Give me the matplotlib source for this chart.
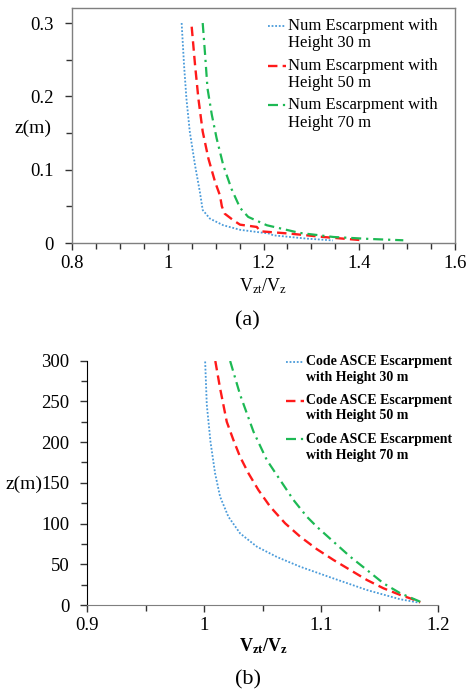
import matplotlib
matplotlib.use("Agg")
import matplotlib.pyplot as plt
from matplotlib.ticker import MultipleLocator

plt.rcParams['font.family'] = ['Liberation Serif', 'DejaVu Serif']
plt.rcParams['mathtext.fontset'] = 'custom'
plt.rcParams['mathtext.rm'] = 'Liberation Serif'
plt.rcParams['mathtext.bf'] = 'Liberation Serif:bold'

# (a) numerical speed-up profiles, z in m (model scale)
num_30_ratio = [1.029, 1.034, 1.039, 1.046, 1.057, 1.067, 1.073, 1.088, 1.102, 1.116,
                1.151, 1.158, 1.213, 1.220, 1.290, 1.345]
num_30_z = [0.300, 0.243, 0.197, 0.152, 0.106, 0.070, 0.045, 0.0333, 0.0287, 0.0242,
            0.0180, 0.0174, 0.0128, 0.0105, 0.0060, 0.0035]

num_50_ratio = [1.050, 1.057, 1.064, 1.073, 1.085, 1.099, 1.109, 1.113, 1.119, 1.137,
                1.151, 1.186, 1.193, 1.255, 1.325, 1.408]
num_50_z = [0.295, 0.243, 0.197, 0.152, 0.115, 0.083, 0.065, 0.050, 0.040, 0.031,
            0.0250, 0.0219, 0.0160, 0.0128, 0.0082, 0.0037]

num_70_ratio = [1.073, 1.078, 1.083, 1.092, 1.102, 1.116, 1.133, 1.151, 1.168, 1.207,
                1.276, 1.346, 1.422, 1.492]
num_70_z = [0.300, 0.257, 0.211, 0.175, 0.143, 0.106, 0.074, 0.048, 0.0356, 0.0242,
            0.0137, 0.0082, 0.0055, 0.0037]

# (b) ASCE code speed-up profiles, z in m
asce_30_ratio = [1.0009, 1.0023, 1.0055, 1.0094, 1.0137, 1.0208, 1.0308, 1.0452, 1.0623,
                 1.0823, 1.108, 1.1394, 1.168, 1.1836]
asce_30_z = [299, 246, 200, 161.7, 133, 108.4, 88, 71.6, 59, 47, 34, 18.4, 7, 3]

asce_50_ratio = [1.0096, 1.0137, 1.0194, 1.0251, 1.0308, 1.038, 1.0465, 1.0566, 1.0694,
                 1.0823, 1.0966, 1.1108, 1.1251, 1.1394, 1.1536, 1.168, 1.1823, 1.185]
asce_50_z = [299.6, 266, 225, 202.6, 182, 161.7, 141.2, 120.7, 100.3, 83.9, 68.5, 55.3,
             43, 30.7, 20.5, 12.3, 5.3, 3]

asce_70_ratio = [1.0223, 1.0309, 1.0423, 1.0537, 1.0651, 1.0765, 1.088, 1.0966, 1.1108,
                 1.1251, 1.1394, 1.1536, 1.168, 1.1851]
asce_70_z = [299.6, 257.9, 212.8, 178, 153.5, 129, 108.4, 96, 77.7, 59.3, 43, 26.6,
             14.4, 4]

heights = ['30', '50', '70']
colors = ['#4A9BDA', '#FF1A1A', '#1DB954']
styles = [(0, (1, 1)), (0, (4, 2.2)), (0, (4.5, 2.2, 1, 2.2))]
widths = [1.3, 1.7, 1.6]

W, H = 466, 695
fig = plt.figure(figsize=(W / 100, H / 100), dpi=100)


def fx(px):
    return px / W


def fy(py):
    return 1 - py / H


def legend_block(x0, x1, tx, rows, labels, weight, size):
    for (y1, y2), lab, c, ls, lw in zip(rows, labels, colors, styles, widths):
        fig.add_artist(plt.Line2D([fx(x0), fx(x1)], [fy(y1), fy(y1)], color=c,
                                  linestyle=ls, lw=lw, transform=fig.transFigure))
        fig.text(fx(tx), fy(y1), lab[0], fontsize=size, fontweight=weight, va='center')
        fig.text(fx(tx), fy(y2), lab[1], fontsize=size, fontweight=weight, va='center')


def style_ticks(ax):
    ax.tick_params(which='both', direction='out', labelsize=13.5, color='#333333')
    ax.tick_params(axis='x', which='both', pad=4)
    ax.tick_params(axis='y', which='both', pad=8)
    ax.tick_params(which='major', length=5, width=1)
    ax.tick_params(which='minor', length=4, width=1)


# ---- panel (a) ----
ax1 = fig.add_axes([fx(72), fy(243), fx(455) - fx(72), fy(8) - fy(243)])
for xs, zs, c, ls, lw in zip([num_30_ratio, num_50_ratio, num_70_ratio],
                             [num_30_z, num_50_z, num_70_z], colors, styles, widths):
    ax1.plot(xs, zs, color=c, linestyle=ls, lw=lw)
ax1.set_xlim(0.8, 1.6)
ax1.set_ylim(0, 0.3205)
ax1.set_xticks([0.8, 1.0, 1.2, 1.4, 1.6])
ax1.set_xticklabels(['0.8', '1', '1.2', '1.4', '1.6'])
ax1.xaxis.set_minor_locator(MultipleLocator(0.05))
ax1.set_yticks([0, 0.1, 0.2, 0.3])
ax1.set_yticklabels(['0', '0.1', '0.2', '0.3'])
ax1.set_yticks([0.05, 0.15, 0.25], minor=True)
for s in ax1.spines.values():
    s.set_color('#7f7f7f')
    s.set_linewidth(1.0)
style_ticks(ax1)
fig.text(fx(263), fy(286), r'$\mathrm{V_{zt}/V_z}$', fontsize=13, ha='center', va='center')
fig.text(fx(33), fy(128), 'z(m)', fontsize=14, ha='center', va='center')
legend_block(268, 286, 288, [(26, 43), (66, 83), (105, 123)],
             [('Num Escarpment with', f'Height {h} m') for h in heights], 'normal', 12)
fig.text(fx(247), fy(321), '(a)', fontsize=16, ha='center', va='center')

# ---- panel (b) ----
ax2 = fig.add_axes([fx(87.3), fy(605), fx(437.7) - fx(87.3), fy(360.7) - fy(605)])
for xs, zs, c, ls, lw in zip([asce_30_ratio, asce_50_ratio, asce_70_ratio],
                             [asce_30_z, asce_50_z, asce_70_z], colors, styles, widths):
    ax2.plot(xs, zs, color=c, linestyle=ls, lw=lw)
ax2.set_xlim(0.9, 1.2)
ax2.set_ylim(0, 300)
ax2.set_xticks([0.9, 1.0, 1.1, 1.2])
ax2.set_xticklabels(['0.9', '1', '1.1', '1.2'])
ax2.xaxis.set_minor_locator(MultipleLocator(0.05))
ax2.yaxis.set_major_locator(MultipleLocator(50))
ax2.yaxis.set_minor_locator(MultipleLocator(25))
ax2.spines['top'].set_visible(False)
ax2.spines['right'].set_visible(False)
ax2.spines['left'].set_color('black')
ax2.spines['bottom'].set_color('#7f7f7f')
style_ticks(ax2)
fig.text(fx(263), fy(646), r'$\mathbf{V_{zt}/V_z}$', fontsize=13, ha='center', va='center')
fig.text(fx(24), fy(484), 'z(m)', fontsize=14, ha='center', va='center')
legend_block(286, 304, 306, [(361.7, 377.7), (400.7, 416), (439, 455)],
             [('Code ASCE Escarpment', f'with Height {h} m') for h in heights], 'bold', 10)
fig.text(fx(248), fy(680), '(b)', fontsize=16, ha='center', va='center')

fig.savefig('out.png', dpi=100)
